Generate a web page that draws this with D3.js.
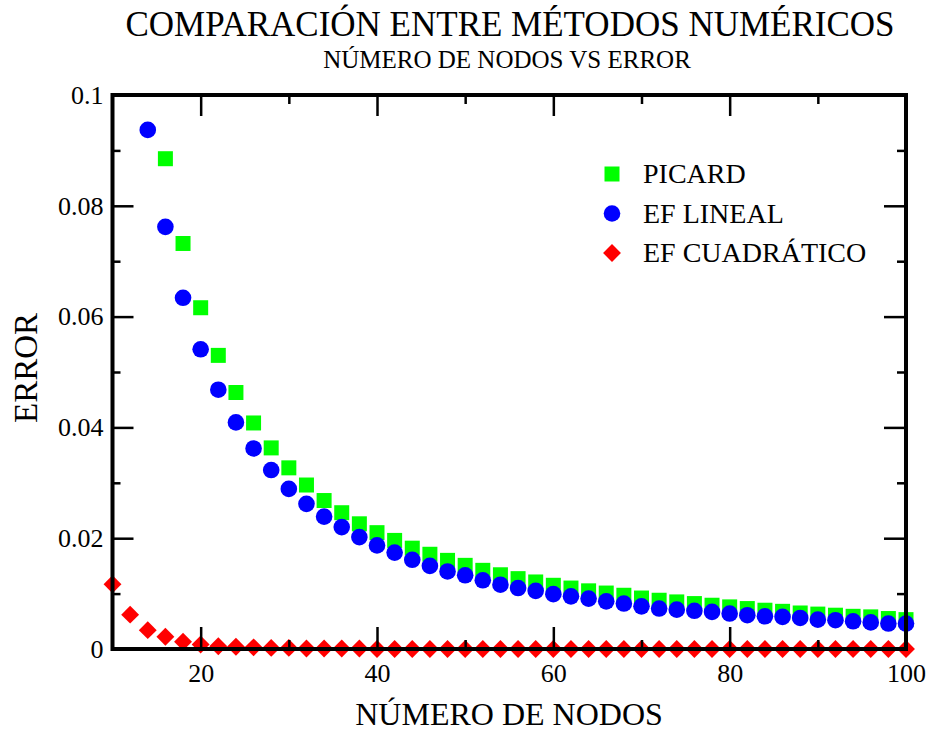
<!DOCTYPE html>
<html>
<head>
<meta charset="utf-8">
<script src="https://cdn.jsdelivr.net/npm/d3@7"></script>
<style>
    body { margin: 0; background: #fff; }
    svg text { font-family: "Liberation Serif", "DejaVu Serif", serif; fill: #000; }
</style>
</head>
<body>
<svg id="chart" width="930" height="731"></svg>
<script>
// numero de nodos (eje x)
var nodos = [10, 12, 14, 16, 18, 20, 22, 24, 26, 28, 30, 32, 34, 36, 38, 40, 42, 44, 46, 48,
    50, 52, 54, 56, 58, 60, 62, 64, 66, 68, 70, 72, 74, 76, 78, 80, 82, 84, 86, 88,
    90, 92, 94, 96, 98, 100];

// errores (null = fuera de rango)
var picard = [null, null, null, 0.0885, 0.0732, 0.0616, 0.0530, 0.0463, 0.0408, 0.0363,
    0.0327, 0.0296, 0.0268, 0.0246, 0.0226, 0.0210, 0.0196, 0.0182, 0.0171, 0.0160,
    0.0151, 0.0142, 0.0134, 0.0127, 0.0121, 0.0115, 0.0110, 0.0105, 0.0101, 0.0097,
    0.0092, 0.0088, 0.0085, 0.0082, 0.0079, 0.0076, 0.0073, 0.0070, 0.0068, 0.0065,
    0.0063, 0.0061, 0.0059, 0.0058, 0.0055, 0.0053];

var efLineal = [null, null, 0.0937, 0.0762, 0.0634, 0.0541, 0.0468, 0.0409, 0.0362, 0.0323,
    0.0289, 0.0262, 0.0239, 0.0220, 0.0202, 0.0187, 0.0174, 0.0161, 0.0150, 0.0140,
    0.0133, 0.0124, 0.0116, 0.0110, 0.0105, 0.0099, 0.0095, 0.0091, 0.0086, 0.0082,
    0.0077, 0.0073, 0.0071, 0.0069, 0.0067, 0.0064, 0.0061, 0.0059, 0.0058, 0.0056,
    0.0053, 0.0052, 0.0050, 0.0048, 0.0046, 0.0046];

var efCuadratico = [0.0117, 0.0062, 0.0034, 0.0022, 0.0013, 0.0008, 0.0005, 0.0004, 0.0003, 0.0002,
    0.0002, 0.0001, 0.0001, 0.0001, 0.0001, 0, 0, 0, 0, 0,
    0, 0, 0, 0, 0, 0, 0, 0, 0, 0,
    0, 0, 0, 0, 0, 0, 0, 0, 0, 0,
    0, 0, 0, 0, 0, 0];

var xMajor = [20, 40, 60, 80, 100];
var xMinor = [30, 50, 70, 90];
var yMajor = [0, 0.02, 0.04, 0.06, 0.08, 0.1];
var yMinor = [0.01, 0.03, 0.05, 0.07, 0.09];
var yLabels = ["0", "0.02", "0.04", "0.06", "0.08", "0.1"];

var svg = d3.select("#chart");

// plot box (window.top is reserved, so no "top" here)
var pLeft = 112.5, pRight = 906, pTop = 95, pBottom = 649;

var x = d3.scaleLinear().domain([10, 100]).range([pLeft, pRight]);
var y = d3.scaleLinear().domain([0, 0.1]).range([pBottom, pTop]);

/* titles */
svg.append("text")
    .attr("x", 510).attr("y", 36)
    .attr("text-anchor", "middle")
    .style("font-size", "35px")
    .text("COMPARACIÓN ENTRE MÉTODOS NUMÉRICOS");

svg.append("text")
    .attr("x", 507).attr("y", 68)
    .attr("text-anchor", "middle")
    .style("font-size", "25px")
    .text("NÚMERO DE NODOS VS ERROR");

svg.append("text")
    .attr("x", 509).attr("y", 725)
    .attr("text-anchor", "middle")
    .style("font-size", "32px")
    .text("NÚMERO DE NODOS");

svg.append("text")
    .attr("transform", "translate(37," + 368 + ") rotate(-90)")
    .attr("text-anchor", "middle")
    .style("font-size", "33px")
    .text("ERROR");

/* markers */
var symSquare = d3.symbol().type(d3.symbolSquare).size(225);
var symCircle = d3.symbol().type(d3.symbolCircle).size(Math.PI * 8.3 * 8.3);
var symDiamond = d3.symbol().type(d3.symbolSquare).size(160);

function points(values) {
    return nodos.map(function (n, i) {
        return {n: n, v: values[i]};
    }).filter(function (d) {
        return d.v !== null;
    });
}

svg.append("g").selectAll("path")
    .data(points(picard))
    .enter().append("path")
    .attr("d", symSquare)
    .attr("transform", function (d) {
        return "translate(" + x(d.n) + "," + y(d.v) + ")";
    })
    .style("fill", "#00ff00");

svg.append("g").selectAll("path")
    .data(points(efLineal))
    .enter().append("path")
    .attr("d", symCircle)
    .attr("transform", function (d) {
        return "translate(" + x(d.n) + "," + y(d.v) + ")";
    })
    .style("fill", "#0000ff");

svg.append("g").selectAll("path")
    .data(points(efCuadratico))
    .enter().append("path")
    .attr("d", symDiamond)
    .attr("transform", function (d) {
        return "translate(" + x(d.n) + "," + y(d.v) + ") rotate(45)";
    })
    .style("fill", "#ff0000");

/* axes: ticks pointing inward on all four sides */
function styleAxis(g) {
    g.select(".domain").remove();
    g.selectAll(".tick line").style("stroke", "#000").style("stroke-width", 2.5);
    g.selectAll("text").style("font-family", "Liberation Serif").style("font-size", "26px").style("fill", "#000");
}

svg.append("g")
    .attr("transform", "translate(0," + pBottom + ")")
    .call(d3.axisBottom(x).tickValues(xMajor).tickSize(-22).tickPadding(15).tickFormat(d3.format("d")))
    .call(styleAxis);
svg.append("g")
    .attr("transform", "translate(0," + pBottom + ")")
    .call(d3.axisBottom(x).tickValues(xMinor).tickSize(-9).tickFormat(""))
    .call(styleAxis);
svg.append("g")
    .attr("transform", "translate(0," + pTop + ")")
    .call(d3.axisTop(x).tickValues(xMajor).tickSize(-21).tickFormat(""))
    .call(styleAxis);
svg.append("g")
    .attr("transform", "translate(0," + pTop + ")")
    .call(d3.axisTop(x).tickValues(xMinor).tickSize(-9).tickFormat(""))
    .call(styleAxis);

svg.append("g")
    .attr("transform", "translate(" + pLeft + ",0)")
    .call(d3.axisLeft(y).tickValues(yMajor).tickSize(-21).tickPadding(9).tickFormat(function (d, i) {
        return yLabels[i];
    }))
    .call(styleAxis);
svg.append("g")
    .attr("transform", "translate(" + pLeft + ",0)")
    .call(d3.axisLeft(y).tickValues(yMinor).tickSize(-8).tickFormat(""))
    .call(styleAxis);
svg.append("g")
    .attr("transform", "translate(" + pRight + ",0)")
    .call(d3.axisRight(y).tickValues(yMajor).tickSize(-22).tickFormat(""))
    .call(styleAxis);
svg.append("g")
    .attr("transform", "translate(" + pRight + ",0)")
    .call(d3.axisRight(y).tickValues(yMinor).tickSize(-9).tickFormat(""))
    .call(styleAxis);

/* frame */
svg.append("rect")
    .attr("x", pLeft).attr("y", pTop)
    .attr("width", pRight - pLeft).attr("height", pBottom - pTop)
    .style("fill", "none")
    .style("stroke", "#000")
    .style("stroke-width", 4);

/* legend */
var legend = [
    {name: "PICARD", sym: symSquare, color: "#00ff00", rot: 0},
    {name: "EF LINEAL", sym: symCircle, color: "#0000ff", rot: 0},
    {name: "EF CUADRÁTICO", sym: symDiamond, color: "#ff0000", rot: 45}
];

var lg = svg.append("g").selectAll("g")
    .data(legend)
    .enter().append("g")
    .attr("transform", function (d, i) {
        return "translate(612," + (174 + i * 39.5) + ")";
    });

lg.append("path")
    .attr("d", function (d) { return d.sym(); })
    .attr("transform", function (d) { return "rotate(" + d.rot + ")"; })
    .style("fill", function (d) { return d.color; });

lg.append("text")
    .attr("x", 31).attr("y", 9)
    .style("font-size", "28px")
    .text(function (d) { return d.name; });
</script>
</body>
</html>
